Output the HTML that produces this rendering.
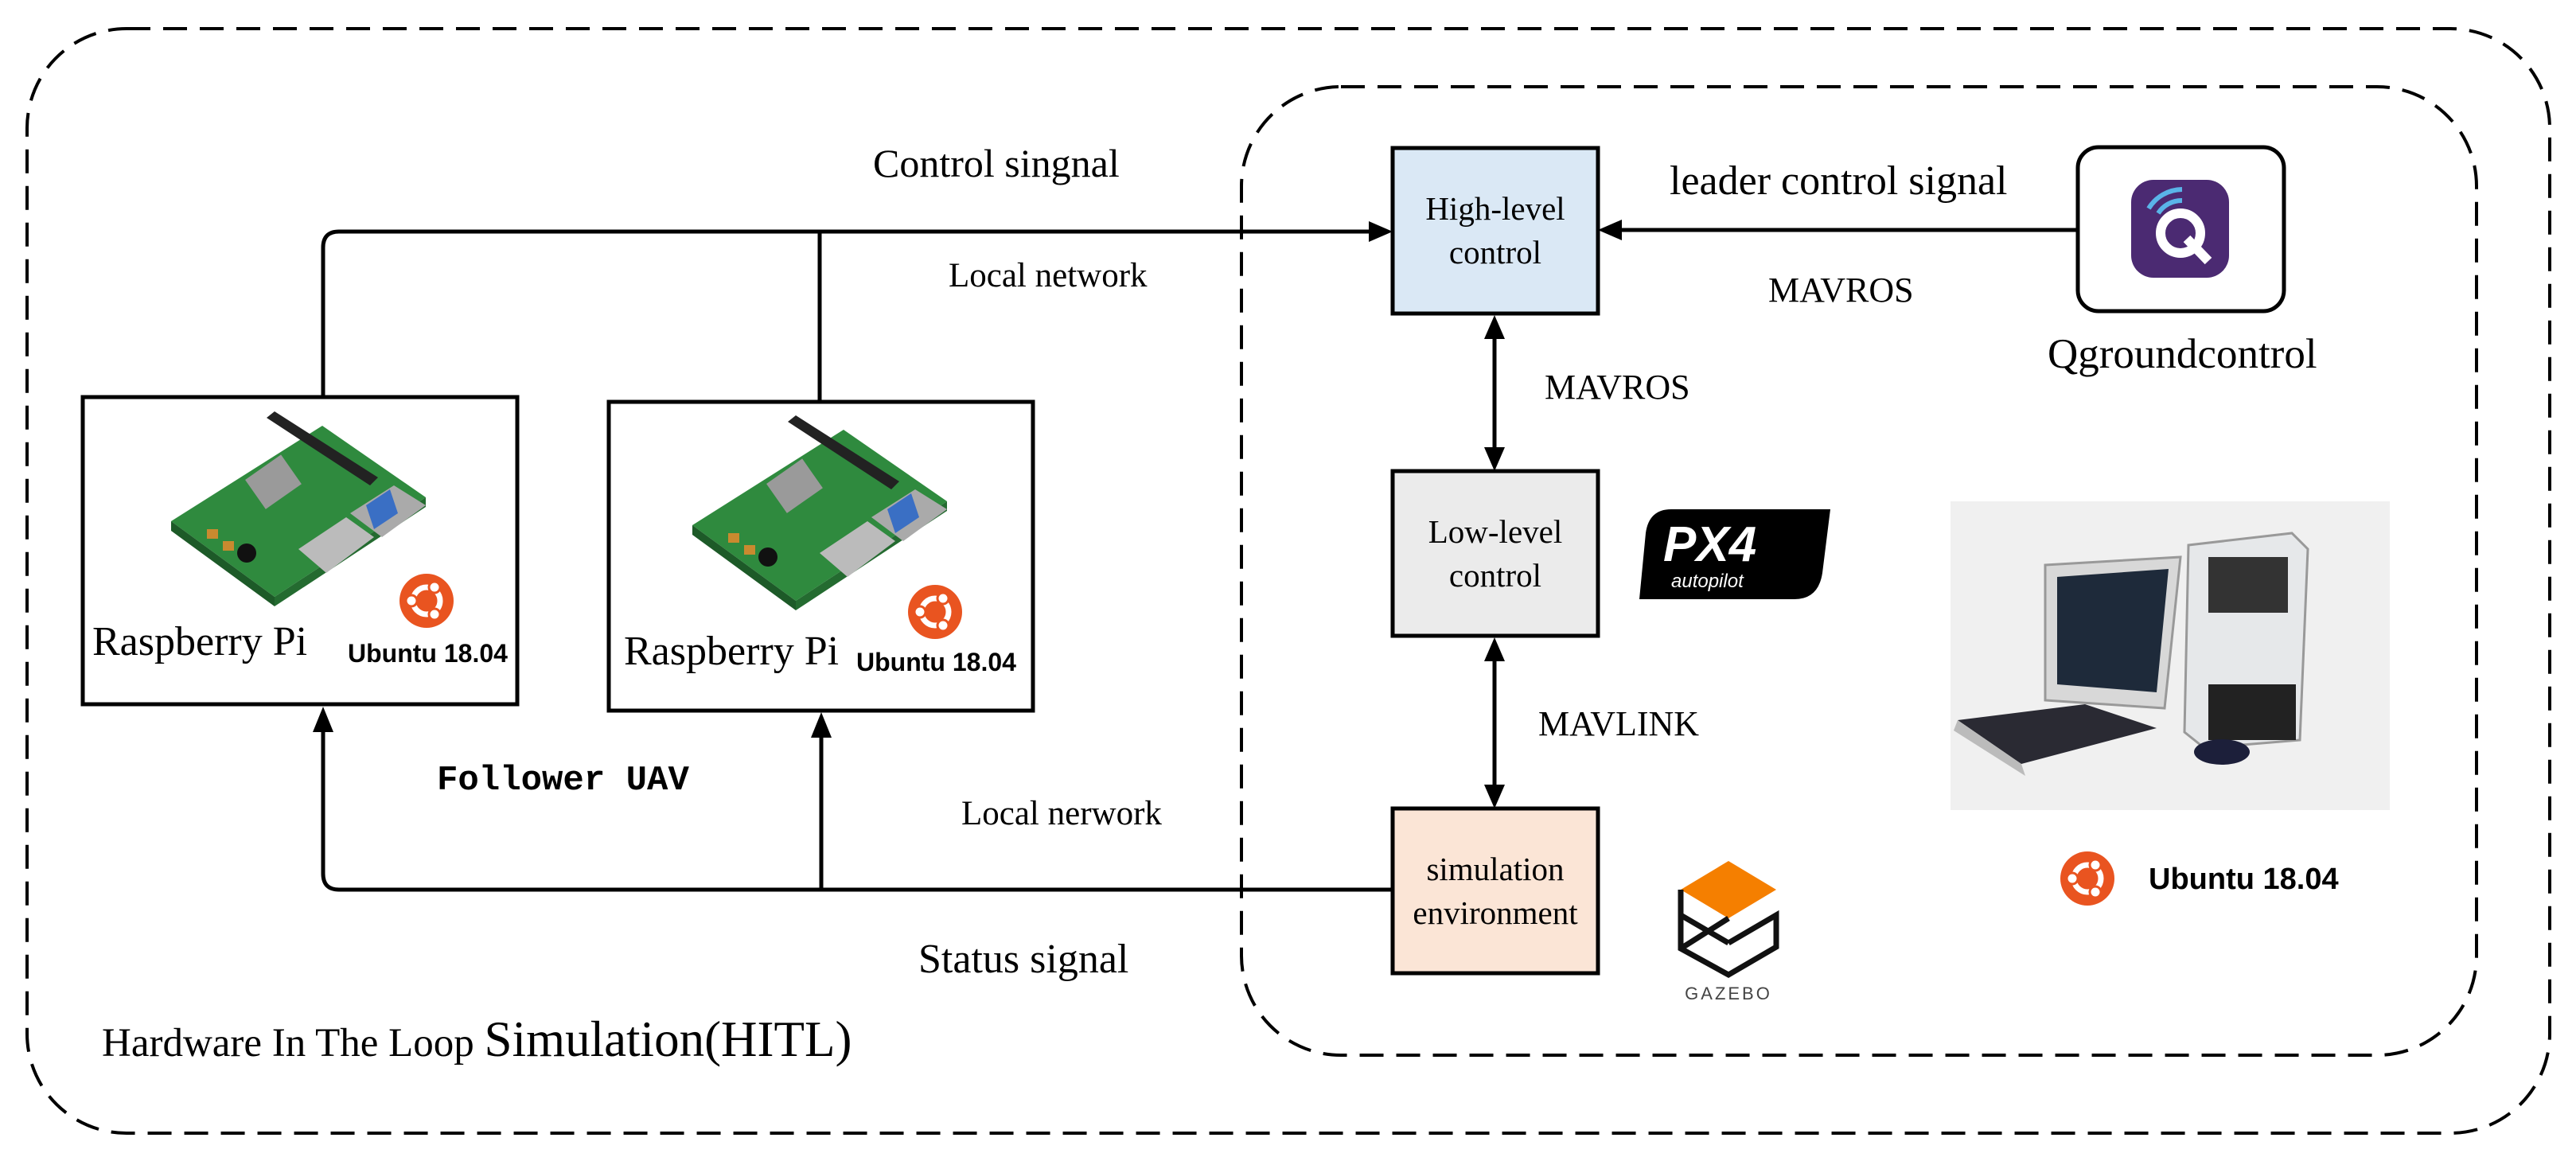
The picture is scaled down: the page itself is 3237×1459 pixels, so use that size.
<!DOCTYPE html>
<html><head><meta charset="utf-8"><style>
html,body{margin:0;padding:0;background:#fff}
svg{display:block}
text{font-family:"Liberation Serif",serif;fill:#000}
.ub{font-family:"Liberation Sans",sans-serif;font-weight:bold}
</style></head><body>
<svg width="3237" height="1459" viewBox="0 0 3237 1459" xmlns="http://www.w3.org/2000/svg">
<defs>
<g id="ubu">
<circle r="34" fill="#e95420"/>
<circle r="17" fill="none" stroke="#fff" stroke-width="7"/>
<circle cx="-19" cy="0" r="7" fill="#fff" stroke="#e95420" stroke-width="3"/>
<circle cx="10" cy="-17" r="7" fill="#fff" stroke="#e95420" stroke-width="3"/>
<circle cx="10" cy="17" r="7" fill="#fff" stroke="#e95420" stroke-width="3"/>
</g>
<g id="pi">
<polygon points="10,140 200,20 330,110 140,235" fill="#2f8a3e"/>
<polygon points="10,140 140,235 140,247 10,152" fill="#1d5a28"/>
<polygon points="140,235 330,110 330,122 140,247" fill="#246b30"/>
<rect x="110" y="70" width="55" height="45" fill="#9a9a9a" transform="rotate(-35 135 90)"/>
<polygon points="130,10 260,95 270,85 140,2" fill="#222"/>
<polygon points="235,130 290,95 330,120 275,160" fill="#aaa"/>
<polygon points="170,175 230,135 265,160 205,205" fill="#bbb"/>
<polygon points="255,120 285,100 295,130 265,150" fill="#3a6fc4"/>
<circle cx="105" cy="180" r="12" fill="#111"/>
<rect x="55" y="150" width="14" height="12" fill="#c98a2f"/>
<rect x="75" y="165" width="14" height="12" fill="#c98a2f"/>
</g>
</defs>

<rect x="34" y="36" width="3170" height="1388" rx="125" fill="none" stroke="#000" stroke-width="4" stroke-dasharray="30 16"/>
<rect x="1560" y="109" width="1552" height="1217" rx="125" fill="none" stroke="#000" stroke-width="4" stroke-dasharray="30 16"/>

<g fill="none" stroke="#000" stroke-width="5">
<path d="M406 499 V311 Q406 291 426 291 H1722"/>
<path d="M1030 291 V505"/>
<path d="M1750 1118 H426 Q406 1118 406 1098 V918"/>
<path d="M1032 1118 V925"/>
<path d="M2611 289 H2036"/>
<path d="M1878 424 V564"/>
<path d="M1878 828 V988"/>
</g>
<g fill="#000">
<polygon points="1750,291 1720,278 1720,304"/>
<polygon points="2008,289 2038,276 2038,302"/>
<polygon points="406,888 393,920 419,920"/>
<polygon points="1032,895 1019,927 1045,927"/>
<polygon points="1878,396 1865,426 1891,426"/>
<polygon points="1878,592 1865,562 1891,562"/>
<polygon points="1878,801 1865,831 1891,831"/>
<polygon points="1878,1016 1865,986 1891,986"/>
</g>

<rect x="104" y="499" width="546" height="386" fill="#fff" stroke="#000" stroke-width="5"/>
<rect x="765" y="505" width="533" height="388" fill="#fff" stroke="#000" stroke-width="5"/>
<use href="#pi" x="205" y="515"/>
<use href="#pi" x="860" y="520"/>
<use href="#ubu" x="536" y="755"/>
<use href="#ubu" x="1175" y="769"/>
<text x="116" y="823" font-size="52">Raspberry Pi</text>
<text class="ub" x="437" y="832" font-size="32">Ubuntu 18.04</text>
<text x="784" y="835" font-size="52">Raspberry Pi</text>
<text class="ub" x="1076" y="843" font-size="32">Ubuntu 18.04</text>

<text x="1097" y="222" font-size="50">Control singnal</text>
<text x="1192" y="360" font-size="43">Local network</text>
<text x="1208" y="1036" font-size="43">Local nerwork</text>
<text x="1154" y="1222" font-size="52">Status signal</text>
<text x="549" y="992" font-size="44" font-weight="bold" style="font-family:'Liberation Mono',monospace">Follower UAV</text>
<text x="128" y="1327" font-size="51">Hardware In The Loop <tspan font-size="63">Simulation(HITL)</tspan></text>

<rect x="1750" y="186" width="258" height="208" fill="#dae8f5" stroke="#000" stroke-width="5"/>
<text x="1879" y="276" font-size="41" text-anchor="middle">High-level</text>
<text x="1879" y="331" font-size="41" text-anchor="middle">control</text>
<rect x="1750" y="592" width="258" height="207" fill="#ebebeb" stroke="#000" stroke-width="5"/>
<text x="1879" y="682" font-size="41" text-anchor="middle">Low-level</text>
<text x="1879" y="737" font-size="41" text-anchor="middle">control</text>
<rect x="1750" y="1016" width="258" height="207" fill="#fbe5d6" stroke="#000" stroke-width="5"/>
<text x="1879" y="1106" font-size="41" text-anchor="middle">simulation</text>
<text x="1879" y="1161" font-size="41" text-anchor="middle">environment</text>

<text x="1941" y="501" font-size="44">MAVROS</text>
<text x="1933" y="924" font-size="44">MAVLINK</text>
<text x="2098" y="244" font-size="52">leader control signal</text>
<text x="2222" y="379" font-size="44">MAVROS</text>
<text x="2573" y="462" font-size="53">Qgroundcontrol</text>

<rect x="2611" y="185" width="259" height="206" rx="26" fill="#fff" stroke="#000" stroke-width="5"/>
<rect x="2678" y="226" width="123" height="123" rx="28" fill="#4b2a72"/>
<circle cx="2740" cy="293" r="25" fill="none" stroke="#fff" stroke-width="12"/>
<path d="M2748 300 L2775 328" stroke="#fff" stroke-width="12"/>
<path d="M2712 268 A35 35 0 0 1 2742 252" fill="none" stroke="#5ab4e8" stroke-width="6"/>
<path d="M2700 262 A50 50 0 0 1 2742 238" fill="none" stroke="#5ab4e8" stroke-width="6"/>

<path d="M2075 640 H2300 L2290 720 Q2285 753 2255 753 H2060 L2068 670 Q2072 640 2100 640 Z" fill="#000"/>
<text x="2090" y="705" font-size="62" font-weight="bold" style="font-family:'Liberation Sans',sans-serif;fill:#fff;font-style:italic">PX4</text>
<text x="2100" y="738" font-size="24" style="font-family:'Liberation Sans',sans-serif;fill:#fff;font-style:italic">autopilot</text>

<polygon points="2172,1082 2232,1118 2172,1154 2112,1118" fill="#f57f00"/>
<path d="M2112 1118 V1192 L2172 1225 L2232 1190 V1150 L2172 1185 M2112 1150 L2172 1185 M2172 1154 L2112 1192" fill="none" stroke="#111" stroke-width="7"/>
<text x="2172" y="1256" font-size="22" text-anchor="middle" style="font-family:'Liberation Sans',sans-serif;letter-spacing:3px;fill:#444">GAZEBO</text>

<rect x="2451" y="630" width="552" height="388" fill="#f0f0f0"/>
<polygon points="2570,710 2740,700 2720,890 2570,880" fill="#d8d8d8" stroke="#999" stroke-width="3"/>
<polygon points="2585,725 2725,715 2710,870 2585,860" fill="#1e2a3a"/>
<polygon points="2750,685 2880,670 2900,690 2890,930 2770,940 2745,920" fill="#e6e8ea" stroke="#999" stroke-width="3"/>
<rect x="2775" y="700" width="100" height="70" fill="#333"/>
<rect x="2775" y="860" width="110" height="70" fill="#222"/>
<polygon points="2460,905 2620,885 2710,915 2540,960" fill="#2a2a33"/>
<polygon points="2460,905 2540,960 2545,975 2455,918" fill="#bbb"/>
<ellipse cx="2792" cy="945" rx="35" ry="16" fill="#1c1f3a"/>
<use href="#ubu" x="2623" y="1104"/>
<text class="ub" x="2700" y="1117" font-size="38">Ubuntu 18.04</text>
</svg>
</body></html>
